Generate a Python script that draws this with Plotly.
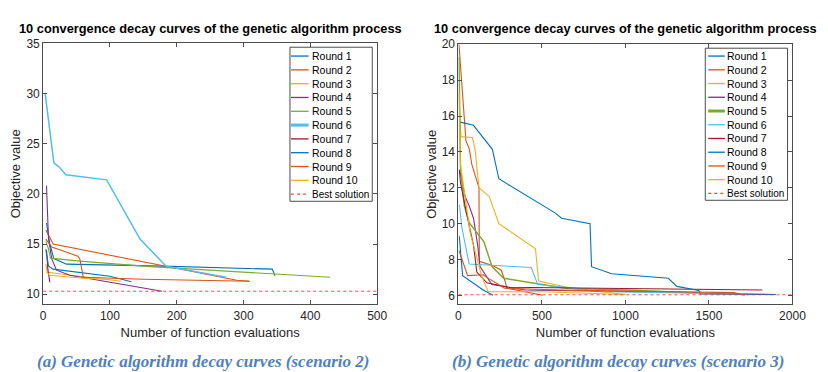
import plotly.graph_objects as go

# ---------------- data ----------------
round_names = ["Round 1", "Round 2", "Round 3", "Round 4", "Round 5",
               "Round 6", "Round 7", "Round 8", "Round 9", "Round 10"]
best_name = "Best solution"

# Scenario 2 (left panel): number of function evaluations / objective value
s2_evals = [
    [5, 10, 16, 35, 180, 343, 347],
    [4, 15, 290, 309],
    [4, 6, 117],
    [5, 8, 13, 20, 40, 100, 178],
    [4, 8, 11, 55, 160, 430],
    [3, 16, 25, 34, 95, 145, 184, 274],
    [5, 7, 10],
    [4, 8, 15, 100, 132],
    [4, 13, 52, 55, 60, 150, 309],
    [5, 10, 60, 100],
]
s2_obj = [
    [17.1, 15.0, 13.55, 13.0, 12.8, 12.5, 11.85],
    [16.4, 15.0, 11.4, 11.3],
    [13.0, 12.2, 11.3],
    [20.8, 15.5, 13.5, 12.4, 11.9, 11.2, 10.3],
    [15.3, 14.5, 13.6, 13.3, 12.75, 11.7],
    [30.0, 23.1, 22.6, 21.9, 21.4, 15.5, 12.8, 11.7],
    [14.4, 12.5, 11.2],
    [14.5, 12.8, 12.5, 11.8, 11.25],
    [15.5, 14.7, 13.8, 13.5, 11.7, 11.5, 11.3],
    [12.2, 11.9, 11.6, 11.5],
]
s2_best = 10.3

# Scenario 3 (right panel)
s3_evals = [
    [5, 25, 148, 207],
    [3, 45, 64, 80, 123, 125, 207, 256, 279, 290, 504],
    [6, 15, 84, 100, 123, 185, 242, 461, 480, 700, 1000],
    [5, 12, 40, 64, 90, 115, 129, 200, 400, 1440],
    [3, 12, 35, 64, 152, 201, 270, 641, 1000, 1400],
    [6, 20, 64, 436, 475, 900, 1900],
    [5, 12, 50, 90, 110, 170, 300, 1820],
    [12, 90, 203, 242, 578, 618, 788, 797, 917, 1257, 1308, 1439, 1449, 1900],
    [3, 55, 148, 170, 276, 600, 1650, 1715],
    [3, 12, 70, 138, 178, 500, 1000],
]
s3_obj = [
    [9.3, 7.1, 6.3, 6.0],
    [20.0, 14.6, 14.2, 13.3, 12.0, 7.9, 7.65, 7.4, 6.8, 6.4, 6.0],
    [16.5, 14.85, 14.8, 14.1, 12.0, 11.5, 10.0, 8.6, 6.8, 6.35, 6.05],
    [13.0, 12.8, 11.5, 11.0, 10.3, 8.8, 7.6, 6.6, 6.3, 6.15],
    [19.3, 13.2, 11.0, 10.05, 9.0, 7.6, 6.95, 6.4, 6.3, 6.15],
    [11.05, 9.8, 7.75, 7.55, 6.6, 6.2, 6.05],
    [13.0, 12.3, 10.5, 8.8, 7.3, 6.7, 6.45, 6.3],
    [15.66, 15.48, 14.14, 12.5, 10.6, 10.3, 10.0, 7.6, 7.2, 6.95, 6.5, 6.27, 6.08, 6.05],
    [8.5, 7.1, 7.15, 7.0, 6.4, 6.3, 6.15, 6.0],
    [17.3, 13.3, 9.5, 7.1, 6.2, 6.2, 6.05],
]
s3_best = 6.03

s2_xticks = [0, 100, 200, 300, 400, 500]
s2_yticks = [10, 15, 20, 25, 30, 35]
s3_xticks = [0, 500, 1000, 1500, 2000]
s3_yticks = [6, 8, 10, 12, 14, 16, 18, 20]

title_text = "10 convergence decay curves of the genetic algorithm process"
x_title = "Number of function evaluations"
y_title = "Objective value"
caption_a = "(a) Genetic algorithm decay curves (scenario 2)"
caption_b = "(b) Genetic algorithm decay curves (scenario 3)"

# ---------------- style ----------------
W, H = 828, 372
colors = ["#0072BD", "#D95319", "#EDB120", "#7E2F8E", "#77AC30",
          "#4DBEEE", "#A2142F", "#0072BD", "#D95319", "#EDB120"]
best_color = "rgba(255,40,40,0.85)"
sans = "Liberation Sans, Arial, sans-serif"
serif = "Liberation Serif, Times New Roman, serif"
axis_col = "#4d4d4d"
text_col = "#262626"


def px(x):
    return x / W


def py(y):
    return 1 - y / H


fig = go.Figure()

panels = [
    dict(xa="x", ya="y", evals=s2_evals, obj=s2_obj, best=s2_best, thick=5),
    dict(xa="x2", ya="y2", evals=s3_evals, obj=s3_obj, best=s3_best, thick=4),
]
for p in panels:
    for i in range(len(round_names)):
        fig.add_trace(go.Scatter(
            x=p["evals"][i], y=p["obj"][i], mode="lines", name=round_names[i],
            xaxis=p["xa"], yaxis=p["ya"], showlegend=False,
            line=dict(color=colors[i], width=1.5 if i == p["thick"] else 1.1),
            hoverinfo="x+y+name"))
    fig.add_shape(type="line", xref=p["xa"] + " domain", yref=p["ya"],
                  x0=0, x1=1, y0=p["best"], y1=p["best"],
                  line=dict(color=best_color, width=1, dash="dot"))

axis_common = dict(showline=True, linecolor=axis_col, linewidth=1, mirror="ticks",
                   ticks="inside", ticklen=4, tickcolor=axis_col, showgrid=False,
                   zeroline=False, tickfont=dict(family=sans, size=12, color=text_col))
title_font = dict(family=sans, size=13, color=text_col)

fig.update_layout(
    width=W, height=H, margin=dict(l=0, r=0, t=0, b=0),
    paper_bgcolor="white", plot_bgcolor="white", showlegend=False,
    xaxis=dict(domain=[px(41), px(382)], range=[0, 500], tickvals=s2_xticks,
               title=dict(text=x_title, font=title_font, standoff=6), anchor="y", **axis_common),
    yaxis=dict(domain=[py(303), py(37)], range=[9, 35], tickvals=s2_yticks,
               title=dict(text=y_title, font=title_font, standoff=2), anchor="x", **axis_common),
    xaxis2=dict(domain=[px(465), px(806)], range=[0, 2000], tickvals=s3_xticks,
                title=dict(text=x_title, font=title_font, standoff=6), anchor="y2", **axis_common),
    yaxis2=dict(domain=[py(303), py(38)], range=[5.5, 20], tickvals=s3_yticks,
                title=dict(text=y_title, font=title_font, standoff=2), anchor="x2", **axis_common),
)

annotations = []
# titles
for cx in (211.5, 635.5):
    annotations.append(dict(text="<b>" + title_text + "</b>", x=px(cx), y=py(22),
                            xref="paper", yref="paper", xanchor="center", yanchor="middle",
                            showarrow=False, font=dict(family=sans, size=12.8, color="black")))
# captions
for cx, cap in ((204, caption_a), (627.5, caption_b)):
    annotations.append(dict(text="<b><i>" + cap + "</i></b>", x=px(cx), y=py(361),
                            xref="paper", yref="paper", xanchor="center", yanchor="middle",
                            showarrow=False, font=dict(family=serif, size=17, color="#4f81bd")))

# manual compact legends (MATLAB-style)
shapes = []
legends = [
    dict(box=(293, 41, 377, 198), l0=294, l1=312, tx=313, y0=50, dy=14.07, thick=5),
    dict(box=(717, 42, 801, 197), l0=720, l1=737, tx=737.5, y0=50, dy=14.0, thick=4),
]
for lg in legends:
    bx0, by0, bx1, by1 = lg["box"]
    shapes.append(dict(type="rect", xref="paper", yref="paper",
                       x0=px(bx0), x1=px(bx1), y0=py(by1), y1=py(by0),
                       line=dict(color=axis_col, width=1), fillcolor="white", layer="above"))
    labels = round_names + [best_name]
    for i, lab in enumerate(labels):
        yy = lg["y0"] + lg["dy"] * i
        if i < len(round_names):
            ln = dict(color=colors[i], width=3 if i == lg["thick"] else 1.3)
        else:
            ln = dict(color=best_color, width=1.2, dash="dot")
        shapes.append(dict(type="line", xref="paper", yref="paper",
                           x0=px(lg["l0"]), x1=px(lg["l1"]), y0=py(yy), y1=py(yy),
                           line=ln, layer="above"))
        annotations.append(dict(text=lab, x=px(lg["tx"]), y=py(yy), xref="paper", yref="paper",
                                xanchor="left", yanchor="middle", showarrow=False,
                                font=dict(family=sans, size=10.5 if i < len(round_names) else 10,
                                          color="black")))

fig.update_layout(annotations=annotations, shapes=list(fig.layout.shapes) + shapes)

fig.write_html(
    "out.html",
    config={"displayModeBar": False},
    post_script=("document.documentElement.style.margin='0';"
                 "document.body.style.margin='0';"
                 "document.documentElement.style.overflow='hidden';"
                 "document.body.style.overflow='hidden';"),
)
